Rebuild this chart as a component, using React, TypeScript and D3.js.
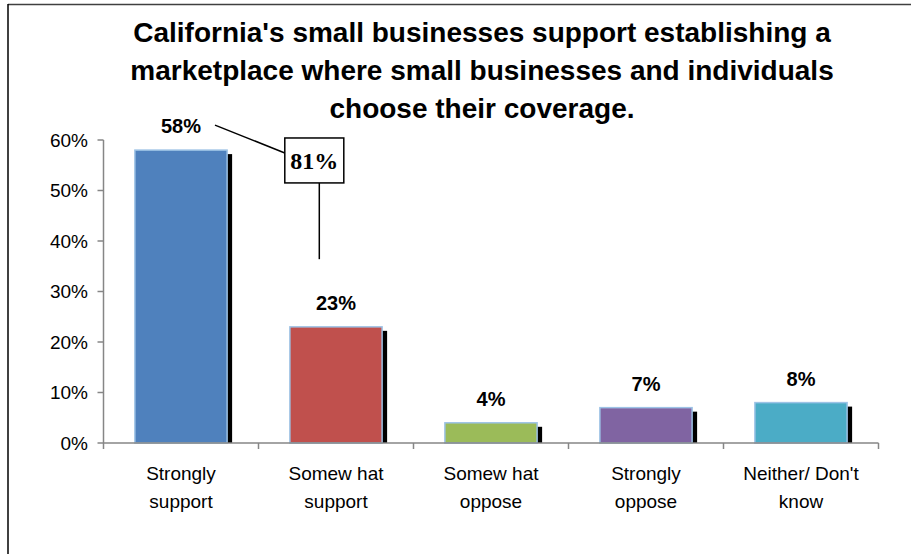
import React from "react";
import * as d3 from "d3";

const categories: string[][] = [
  ["Strongly", "support"],
  ["Somew hat", "support"],
  ["Somew hat", "oppose"],
  ["Strongly", "oppose"],
  ["Neither/ Don't", "know"],
];
const values: number[] = [58, 23, 4, 7, 8];
const barColors: string[] = ["#4F81BD", "#C0504D", "#9BBB59", "#8064A2", "#4BACC6"];
const yTicks: number[] = [0, 10, 20, 30, 40, 50, 60];
const titleLines: string[] = [
  "California's small businesses support establishing a",
  "marketplace where small businesses and individuals",
  "choose their coverage.",
];
const calloutText = "81%";

const W = 911;
const H = 554;
const FONT = "'Liberation Sans', Arial, Helvetica, sans-serif";

export default function App() {
  const x0 = 103.5;
  const x1 = 878.5;
  const yBase = 443;
  const yTop = 140;

  const x = d3
    .scaleBand<number>()
    .domain(values.map((_, i) => i))
    .range([x0, x1])
    .padding(0);
  const y = d3.scaleLinear().domain([0, 60]).range([yBase, yTop]);
  const step = x.step();
  const barW = step * 0.595;

  const boundaries = d3.range(values.length + 1).map((i) => x0 + i * step);

  // callout geometry in data space
  const boxCx = x(0)! + step * 1.36;
  const boxW = 59;
  const boxTop = y(60.4);
  const boxBottom = y(51.5);
  const stemEnd = y(36.4);
  const labelOffset = 17;
  const diagStartX = x(0)! + step / 2 + 34;
  const diagStartY = y(values[0]) - labelOffset - 8;

  return (
    <div style={{ position: "fixed", left: 0, top: 0, width: W, height: H, background: "#fff" }}>
      <svg width={W} height={H} style={{ display: "block" }}>
        <rect x={0} y={0} width={W} height={H} fill="#fff" />
        {/* frame */}
        <line x1={8} y1={4.5} x2={W} y2={4.5} stroke="#404040" strokeWidth={1.5} />
        <line x1={8} y1={4} x2={8} y2={H} stroke="#000" strokeWidth={1.5} />

        {/* title */}
        {titleLines.map((t, i) => (
          <text
            key={i}
            x={482}
            y={42 + i * 38}
            textAnchor="middle"
            fontFamily={FONT}
            fontWeight="bold"
            fontSize={28}
            fill="#000"
          >
            {t}
          </text>
        ))}

        {/* y axis */}
        <line x1={x0} y1={yTop} x2={x0} y2={yBase} stroke="#868686" strokeWidth={1.5} />
        {yTicks.map((t) => (
          <g key={t}>
            <line x1={x0 - 6} x2={x0} y1={y(t)} y2={y(t)} stroke="#868686" strokeWidth={1.5} />
            <text
              x={88}
              y={y(t)}
              dy="0.35em"
              textAnchor="end"
              fontFamily={FONT}
              fontSize={19}
              fill="#000"
            >
              {t + "%"}
            </text>
          </g>
        ))}

        {/* bars */}
        {values.map((v, i) => {
          const cx = x(i)! + step / 2;
          const bx = cx - barW / 2;
          const by = y(v);
          return (
            <g key={i}>
              <rect
                x={bx + 5}
                y={by + 4}
                width={barW}
                height={Math.max(0, yBase - by - 4)}
                fill="#000"
              />
              <rect
                x={bx}
                y={by}
                width={barW}
                height={yBase - by}
                fill={barColors[i]}
                stroke="#9DC3E6"
                strokeWidth={1.5}
              />
              <text
                x={cx}
                y={by - labelOffset}
                textAnchor="middle"
                fontFamily={FONT}
                fontWeight="bold"
                fontSize={20}
                fill="#000"
              >
                {v + "%"}
              </text>
            </g>
          );
        })}

        {/* x axis */}
        <line x1={x0} y1={yBase} x2={x1} y2={yBase} stroke="#868686" strokeWidth={1.5} />
        {boundaries.map((bx, i) => (
          <line key={i} x1={bx} x2={bx} y1={yBase} y2={yBase + 6} stroke="#868686" strokeWidth={1.5} />
        ))}
        {categories.map((lines, i) => (
          <text
            key={i}
            x={x(i)! + step / 2}
            y={480}
            textAnchor="middle"
            fontFamily={FONT}
            fontSize={19}
            fill="#000"
          >
            {lines.map((l, j) => (
              <tspan key={j} x={x(i)! + step / 2} dy={j === 0 ? 0 : 28}>
                {l}
              </tspan>
            ))}
          </text>
        ))}

        {/* callout */}
        <line
          x1={diagStartX}
          y1={diagStartY}
          x2={boxCx - boxW / 2}
          y2={boxTop + 15}
          stroke="#000"
          strokeWidth={1.5}
        />
        <line x1={boxCx + 5} y1={boxBottom} x2={boxCx + 5} y2={stemEnd} stroke="#000" strokeWidth={1.5} />
        <rect
          x={boxCx - boxW / 2}
          y={boxTop}
          width={boxW}
          height={boxBottom - boxTop}
          fill="#fff"
          stroke="#000"
          strokeWidth={1.5}
        />
        <text
          x={boxCx}
          y={(boxTop + boxBottom) / 2}
          dy="0.35em"
          textAnchor="middle"
          fontFamily="'Liberation Serif', 'Times New Roman', serif"
          fontWeight="bold"
          fontSize={24}
          fill="#000"
        >
          {calloutText}
        </text>
      </svg>
    </div>
  );
}
